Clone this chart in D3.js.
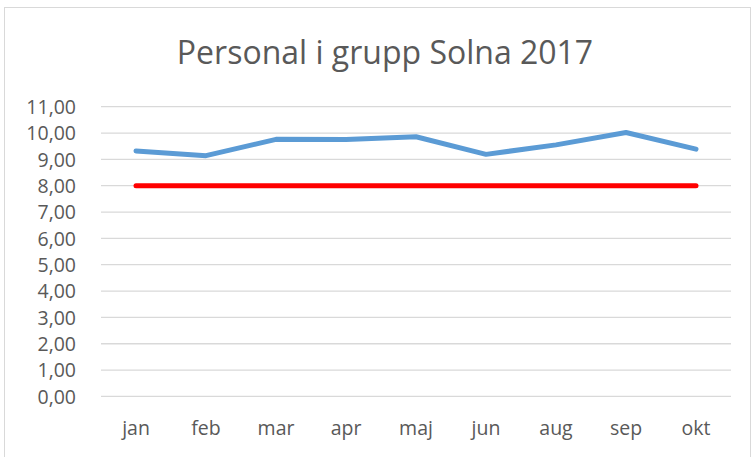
<!DOCTYPE html>
<html>
<head>
<meta charset="utf-8">
<script src="https://cdn.jsdelivr.net/npm/d3@7"></script>
<style>
  body { margin: 0; background: #fff; }
  text { font-family: "Open Sans", sans-serif; fill: #595959; }
</style>
</head>
<body>
<div id="chart"></div>
<script>
var months = ['jan', 'feb', 'mar', 'apr', 'maj', 'jun', 'aug', 'sep', 'okt'];
var personal = [9.32, 9.14, 9.76, 9.75, 9.86, 9.19, 9.55, 10.02, 9.39];
var target = [8, 8, 8, 8, 8, 8, 8, 8, 8];
var yTicks = [0, 1, 2, 3, 4, 5, 6, 7, 8, 9, 10, 11];

var width = 755,
    height = 457,
    margin = {top: 106.7, right: 24, bottom: 60.6, left: 101};

var svg = d3.select('#chart')
  .append('svg')
  .attr('width', width)
  .attr('height', height);

// chart frame
svg.append('rect')
  .attr('x', 4.5).attr('y', 7.5)
  .attr('width', 746).attr('height', 470)
  .attr('fill', 'none')
  .attr('stroke', '#d9d9d9');

svg.append('text')
  .attr('x', 385)
  .attr('y', 64)
  .attr('text-anchor', 'middle')
  .style('font-size', '32px')
  .text('Personal i grupp Solna 2017');

var g = svg.append('g')
  .attr('transform', `translate(${margin.left},${margin.top})`);

var innerW = width - margin.left - margin.right,
    innerH = height - margin.top - margin.bottom;

var x = d3.scaleBand().domain(months).range([0, innerW]);
var y = d3.scaleLinear().domain([0, 11]).range([innerH, 0]);

// gridlines
g.selectAll('.grid')
  .data(yTicks)
  .enter().append('line')
  .attr('class', 'grid')
  .attr('x1', 0).attr('x2', innerW)
  .attr('y1', d => y(d)).attr('y2', d => y(d))
  .attr('stroke', '#d9d9d9')
  .attr('stroke-width', 1.3);

var yAxis = g.append('g')
  .attr('transform', 'translate(-22,0)')
  .call(d3.axisLeft(y).tickValues(yTicks).tickSize(0).tickFormat(d => d3.format('.2f')(d).replace('.', ',')));
yAxis.select('.domain').remove();
yAxis.selectAll('text').style('font-size', '19.5px').attr('dy', '0.35em');

var xAxis = g.append('g')
  .attr('transform', `translate(0,${innerH + 22})`)
  .call(d3.axisBottom(x).tickSize(0));
xAxis.select('.domain').remove();
xAxis.selectAll('text').style('font-size', '19.5px');

var line = d3.line()
  .x((d, i) => x(months[i]) + x.bandwidth() / 2)
  .y(d => y(d));

g.append('path')
  .datum(target)
  .attr('d', line)
  .attr('fill', 'none')
  .attr('stroke', '#ff0000')
  .attr('stroke-width', 5)
  .attr('stroke-linecap', 'round');

g.append('path')
  .datum(personal)
  .attr('d', line)
  .attr('fill', 'none')
  .attr('stroke', '#5b9bd5')
  .attr('stroke-width', 5)
  .attr('stroke-linecap', 'round')
  .attr('stroke-linejoin', 'round');
</script>
</body>
</html>
